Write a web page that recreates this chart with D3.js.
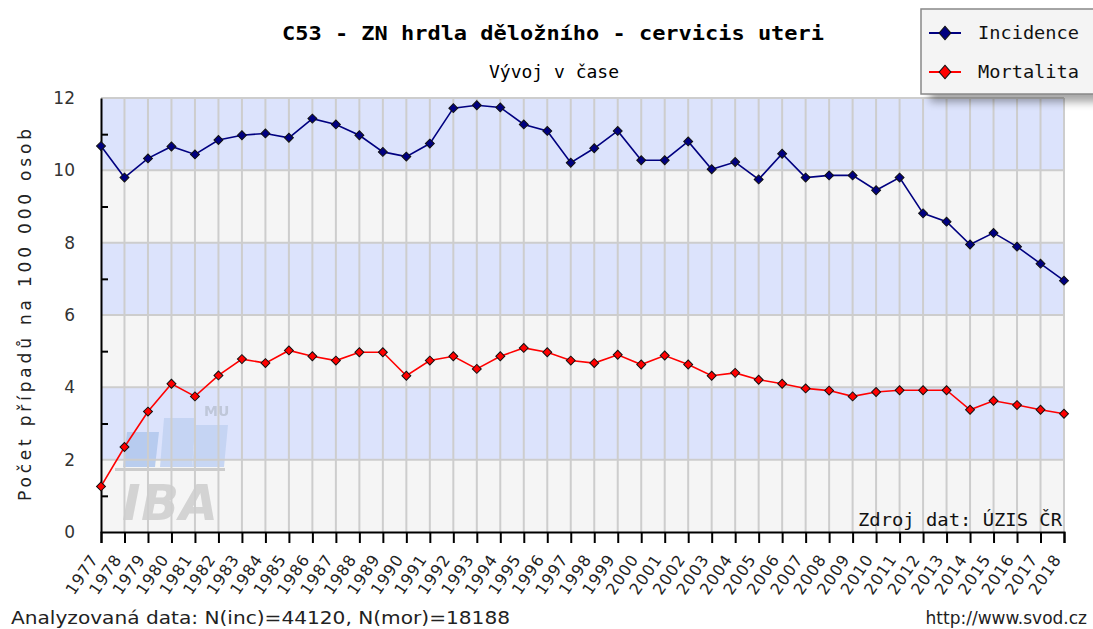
<!DOCTYPE html>
<html>
<head>
<meta charset="utf-8">
<script src="https://cdn.jsdelivr.net/npm/d3@7"></script>
<style>
  body { margin: 0; background: #fff; }
  svg { display: block; }
</style>
</head>
<body>
<div id="chart"></div>
<script>
// values (per 100 000 persons)
const years = d3.range(1977, 2019);
const incidence = [10.67, 9.80, 10.33, 10.66, 10.44, 10.84, 10.97, 11.02, 10.90, 11.43,
  11.27, 10.97, 10.51, 10.38, 10.74, 11.72, 11.80, 11.74, 11.27, 11.09,
  10.21, 10.61, 11.09, 10.28, 10.28, 10.80, 10.03, 10.23, 9.75, 10.46,
  9.80, 9.86, 9.86, 9.45, 9.80, 8.81, 8.58, 7.95, 8.27, 7.89,
  7.42, 6.95];
const mortality = [1.26, 2.35, 3.33, 4.10, 3.75, 4.33, 4.78, 4.67, 5.02, 4.86,
  4.74, 4.97, 4.97, 4.32, 4.74, 4.86, 4.51, 4.86, 5.09, 4.97,
  4.74, 4.67, 4.90, 4.63, 4.88, 4.63, 4.32, 4.40, 4.21, 4.10,
  3.97, 3.91, 3.75, 3.87, 3.92, 3.92, 3.92, 3.38, 3.63, 3.51,
  3.38, 3.27];
const yTicks = [0, 2, 4, 6, 8, 10, 12];
const seriesNames = ["Incidence", "Mortalita"];
const seriesColors = ["#000080", "#ff0000"];

const width = 1093, height = 629;
const pLeft = 101, pRight = 1064, pTop = 98, pBottom = 532;

const svg = d3.select("#chart").append("svg")
  .attr("width", width).attr("height", height);

const defs = svg.append("defs");
defs.append("filter").attr("id", "shadow")
  .attr("x", "-20%").attr("y", "-20%").attr("width", "150%").attr("height", "160%")
  .append("feGaussianBlur").attr("stdDeviation", 4);

const x = d3.scalePoint().domain(years).range([pLeft, pRight]);
const y = d3.scaleLinear().domain([0, 12]).range([pBottom, pTop]);

// alternating bands
const bands = d3.range(0, 12, 2);
svg.selectAll("rect.band").data(bands).enter().append("rect")
  .attr("class", "band")
  .attr("x", pLeft).attr("width", pRight - pLeft)
  .attr("y", d => y(d + 2)).attr("height", d => y(d) - y(d + 2))
  .attr("fill", d => (d / 2) % 2 === 0 ? "#f5f5f5" : "#dce3fc");

// watermark (IBA MU logo)
const logo = svg.append("g").attr("opacity", 0.9);
[[123, 432], [160, 418], [192, 425]].forEach((p, i) => {
  logo.append("path")
    .attr("d", `M${p[0] + 4},${p[1]} L${p[0] + 36},${p[1]} L${p[0] + 32},467 L${p[0]},467 Z`)
    .attr("fill", i === 0 ? "#b3c9ee" : "#c3d3f3");
});
logo.append("rect").attr("x", 115).attr("y", 468).attr("width", 110).attr("height", 3).attr("fill", "#c8c8c8");
logo.append("text").attr("x", 122).attr("y", 520)
  .attr("font-family", "DejaVu Sans").attr("font-weight", "bold").attr("font-style", "italic")
  .attr("font-size", 50).attr("fill", "#d0d0d0").attr("textLength", 96).text("IBA");
logo.append("text").attr("x", 204).attr("y", 416)
  .attr("font-family", "DejaVu Sans").attr("font-weight", "bold")
  .attr("font-size", 14).attr("fill", "#bcc4d6").text("MU");

// grid
const grid = svg.append("g").attr("stroke", "#cdcdcd").attr("stroke-width", 2);
grid.selectAll("line.h").data(yTicks.filter(d => d > 0)).enter().append("line")
  .attr("x1", pLeft).attr("x2", pRight).attr("y1", d => y(d)).attr("y2", d => y(d));
grid.selectAll("line.v").data(years.slice(1)).enter().append("line")
  .attr("y1", pTop).attr("y2", pBottom).attr("x1", d => x(d)).attr("x2", d => x(d));

// source note
svg.append("text").attr("x", 1062).attr("y", 526).attr("text-anchor", "end")
  .attr("font-family", "DejaVu Sans Mono").attr("font-size", 18).attr("fill", "#111")
  .attr("textLength", 204).attr("lengthAdjust", "spacingAndGlyphs")
  .text("Zdroj dat: ÚZIS ČR");

// axes
const yAxis = d3.axisLeft(y).tickValues(yTicks).tickSize(0).tickPadding(26);
const gy = svg.append("g").attr("transform", `translate(${pLeft},0)`).call(yAxis);
gy.select(".domain").attr("stroke", "#000").attr("stroke-width", 2);
gy.selectAll("text").attr("font-family", "DejaVu Sans").attr("font-size", 17).attr("fill", "#333");
svg.append("g").attr("transform", `translate(${pLeft},0)`)
  .call(d3.axisRight(y).tickValues([1, 3, 5, 7, 9, 11]).tickSize(7).tickFormat(""))
  .call(g => g.select(".domain").remove())
  .selectAll("line").attr("stroke", "#000").attr("stroke-width", 2);

const xAxis = d3.axisBottom(x).tickSize(11).tickFormat("");
const gx = svg.append("g").attr("transform", `translate(0,${pBottom})`).call(xAxis);
gx.select(".domain").attr("stroke", "#000").attr("stroke-width", 2);
gx.selectAll("line").attr("stroke", "#000").attr("stroke-width", 2);

svg.append("g").selectAll("text").data(years).enter().append("text")
  .attr("transform", d => `translate(${x(d) - 2},${pBottom + 27}) rotate(-56)`)
  .attr("text-anchor", "end")
  .attr("font-family", "DejaVu Sans").attr("font-size", 16).attr("letter-spacing", 1)
  .attr("fill", "#222")
  .text(d => d);

// lines and markers (diamonds = squares turned 45°)
const line = d3.line().x((d, i) => x(years[i])).y(d => y(d));
const diamond = d3.symbol().type(d3.symbolSquare).size(40);
[incidence, mortality].forEach((vals, k) => {
  svg.append("path").datum(vals)
    .attr("fill", "none").attr("stroke", seriesColors[k]).attr("stroke-width", 1.6)
    .attr("d", line);
  svg.append("g").selectAll("path").data(vals).enter().append("path")
    .attr("transform", (d, i) => `translate(${x(years[i])},${y(d)}) rotate(45)`)
    .attr("d", diamond)
    .attr("fill", seriesColors[k]).attr("stroke", "#111").attr("stroke-width", 1);
});

// titles
svg.append("text").attr("x", 553).attr("y", 40).attr("text-anchor", "middle")
  .attr("font-family", "DejaVu Sans Mono").attr("font-weight", "bold").attr("font-size", 20)
  .attr("textLength", 542).attr("lengthAdjust", "spacingAndGlyphs")
  .text("C53 - ZN hrdla děložního - cervicis uteri");
svg.append("text").attr("x", 554).attr("y", 78).attr("text-anchor", "middle")
  .attr("font-family", "DejaVu Sans Mono").attr("font-size", 18)
  .text("Vývoj v čase");

svg.append("text")
  .attr("transform", `translate(31,${(pTop + pBottom) / 2}) rotate(-90)`)
  .attr("text-anchor", "middle")
  .attr("font-family", "DejaVu Sans").attr("font-size", 17).attr("fill", "#222")
  .attr("textLength", 372).attr("lengthAdjust", "spacing")
  .text("Počet případů na 100 000 osob");

// footer
svg.append("text").attr("x", 11).attr("y", 624)
  .attr("font-family", "DejaVu Sans").attr("font-size", 17).attr("fill", "#222")
  .attr("textLength", 499).attr("lengthAdjust", "spacingAndGlyphs")
  .text("Analyzovaná data: N(inc)=44120, N(mor)=18188");
svg.append("text").attr("x", 1087).attr("y", 624).attr("text-anchor", "end")
  .attr("font-family", "DejaVu Sans").attr("font-size", 17).attr("fill", "#222")
  .text("http://www.svod.cz");

// legend
const lg = svg.append("g");
lg.append("rect").attr("x", 930).attr("y", 16).attr("width", 175).attr("height", 86)
  .attr("fill", "#000").attr("opacity", 0.35).attr("filter", "url(#shadow)");
lg.append("rect").attr("x", 921).attr("y", 9).attr("width", 180).attr("height", 85)
  .attr("fill", "#f4f4f4").attr("stroke", "#888").attr("stroke-width", 1.5);
seriesNames.forEach((name, k) => {
  const cy = 33 + k * 39;
  lg.append("line").attr("x1", 929).attr("x2", 961).attr("y1", cy).attr("y2", cy)
    .attr("stroke", seriesColors[k]).attr("stroke-width", 2);
  lg.append("path").attr("transform", `translate(945,${cy}) scale(1,1.15) rotate(45)`)
    .attr("d", d3.symbol().type(d3.symbolSquare).size(70))
    .attr("fill", seriesColors[k]).attr("stroke", "#111").attr("stroke-width", 1);
  lg.append("text").attr("x", 978).attr("y", cy + 6)
    .attr("font-family", "DejaVu Sans Mono").attr("font-size", 18).attr("fill", "#111")
    .attr("textLength", 101).attr("lengthAdjust", "spacingAndGlyphs")
    .text(name);
});
</script>
</body>
</html>
